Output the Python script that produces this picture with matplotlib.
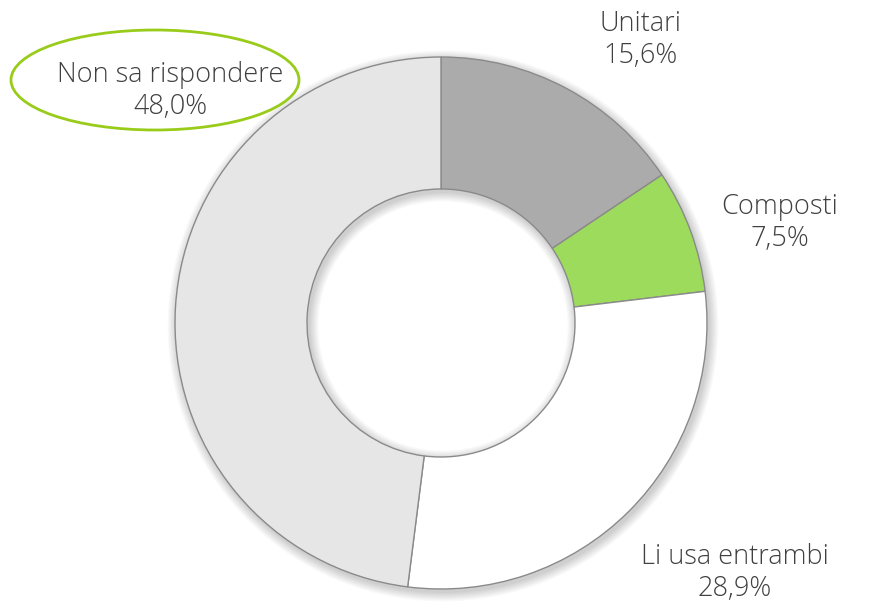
import matplotlib.pyplot as plt
from matplotlib.patches import Ellipse, Wedge

# Risposte (percentuali)
categorie = ["Unitari", "Composti", "Li usa entrambi", "Non sa rispondere"]
valori = [15.6, 7.5, 28.9, 48.0]
colori = ["#ababab", "#9ddb5c", "#ffffff", "#e6e6e6"]

W, H = 871, 606
fig = plt.figure(figsize=(W / 100, H / 100), dpi=100)
ax = fig.add_axes([0, 0, 1, 1])

cx, cy = 441, H - 323
r_out, r_in = 266, 134

# ombra morbida sotto l'anello
for i in range(8):
    d = 1 + i * 1.2
    ax.add_patch(Wedge((cx + 2, cy - 3), r_out + d, 0, 360, width=r_out - r_in + 2 * d,
                       facecolor="#000000", alpha=0.025, lw=0, zorder=1))

ax.pie(valori, colors=colori, startangle=90, counterclock=False,
       center=(cx, cy), radius=r_out, frame=True,
       wedgeprops=dict(width=r_out - r_in, edgecolor="#8a8a8a", linewidth=1.0, zorder=2))
ax.set_xlim(0, W)
ax.set_ylim(0, H)
ax.set_aspect("equal")
ax.axis("off")

font = ["Open Sans", "DejaVu Sans"]
pos_etichette = [(640, 40), (780, 223), (735, 573), (170, 91)]
for nome, v, (x, y) in zip(categorie, valori, pos_etichette):
    testo = f"{nome}\n{v:.1f}%".replace(".", ",")
    ax.text(x, H - y, testo, ha="center", va="center", fontsize=19.5,
            fontweight="light", color="#404040", family=font,
            linespacing=1.15, zorder=5)

# evidenzia la risposta principale
ax.add_patch(Ellipse((155, H - 80), 288, 100, fill=False, edgecolor="#99cc1a",
                     linewidth=2, zorder=6))

fig.savefig("out.png", dpi=100, facecolor="white")
